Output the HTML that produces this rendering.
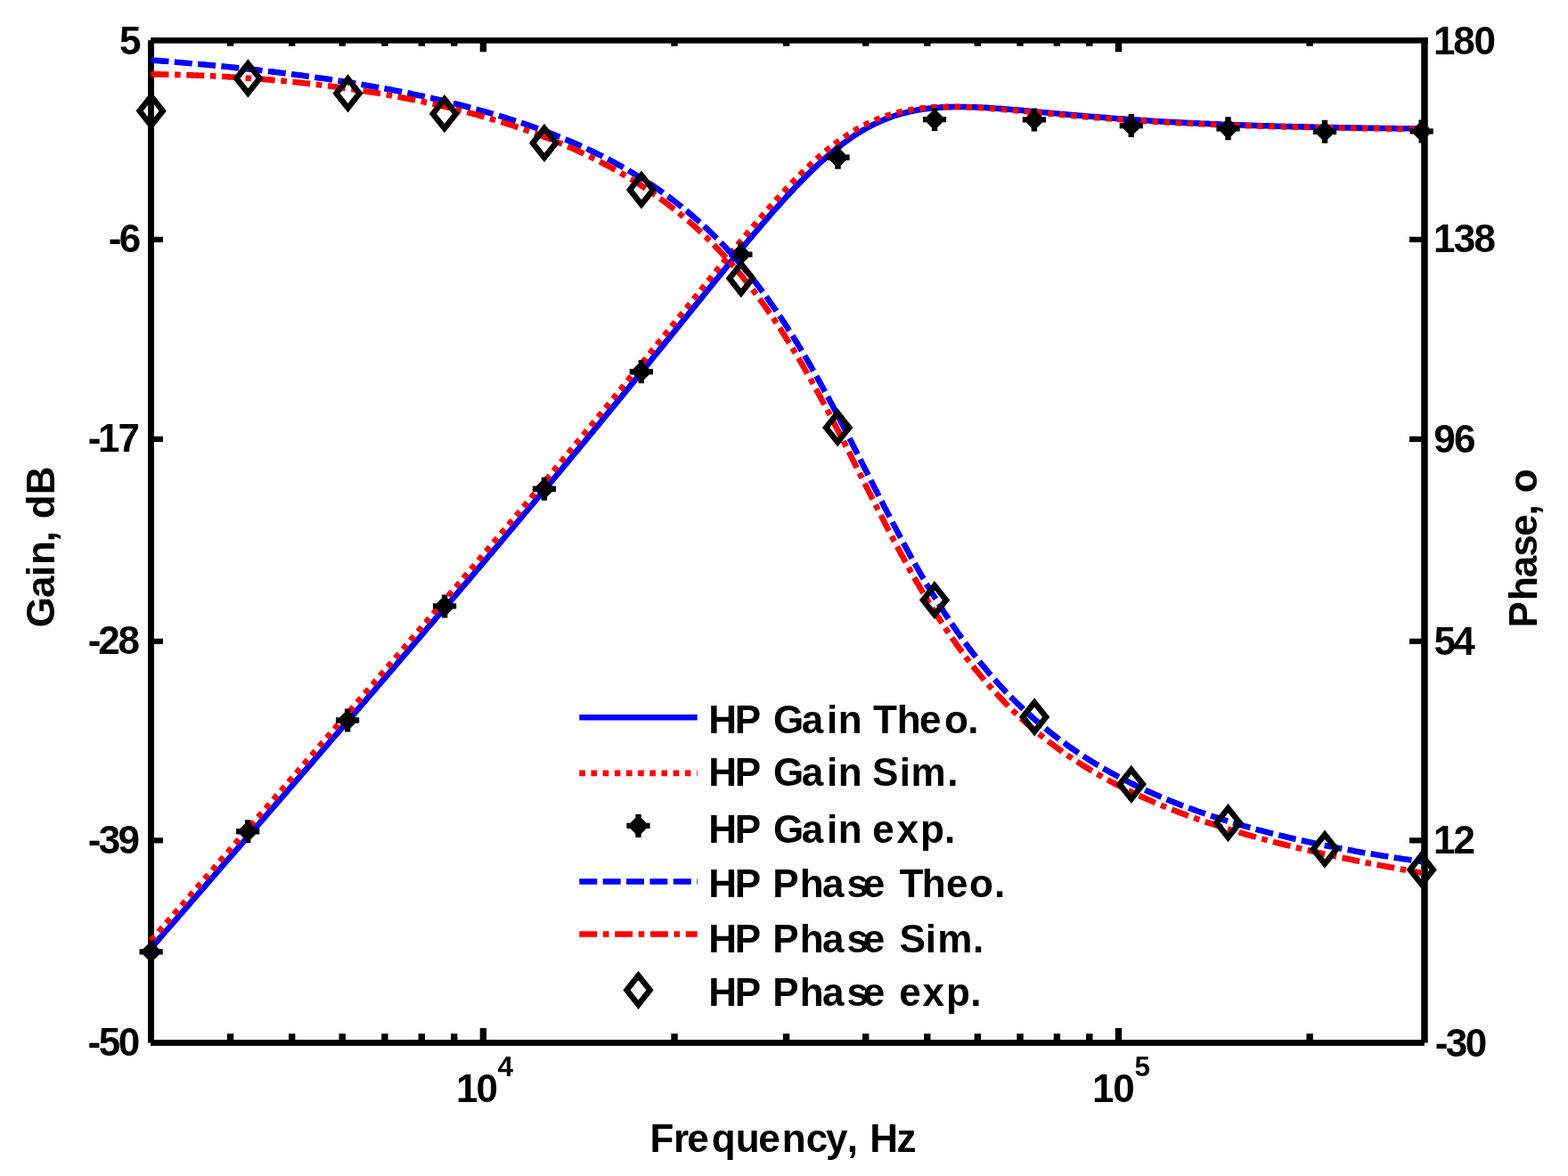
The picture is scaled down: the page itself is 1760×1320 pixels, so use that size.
<!DOCTYPE html><html><head><meta charset="utf-8"><title>HP Gain and Phase</title><style>html,body{margin:0;padding:0;background:#fff;}svg{display:block;}</style></head><body>
<svg width="1760" height="1320" viewBox="0 0 1760 1320">
<rect width="1760" height="1320" fill="#fff"/>
<g fill="#000">
<rect x="169.1" y="42.1" width="1433.6" height="6.6"/>
<rect x="169.1" y="1167.1" width="1429.8" height="6.8"/>
<rect x="166.0" y="45.2" width="6.9" height="1125.3"/>
<rect x="1595.2" y="42.1" width="7.5" height="1128.4"/>
</g>
<path d="M169.4 268.8H183 M1599 268.8H1582 M169.4 492.9H183 M1599 492.9H1582 M169.4 719.9H183 M1599 719.9H1582 M169.4 943.4H183 M1599 943.4H1582" stroke="#000" stroke-width="6.2" fill="none"/>
<path d="M258.6 1170.5V1160.2 M258.6 45.45V51.8 M327.7 1170.5V1160.2 M327.7 45.45V51.8 M384.2 1170.5V1160.2 M384.2 45.45V51.8 M431.9 1170.5V1160.2 M431.9 45.45V51.8 M473.3 1170.5V1160.2 M473.3 45.45V51.8 M509.7 1170.5V1160.2 M509.7 45.45V51.8 M757.0 1170.5V1160.2 M757.0 45.45V51.8 M882.6 1170.5V1160.2 M882.6 45.45V51.8 M971.7 1170.5V1160.2 M971.7 45.45V51.8 M1040.8 1170.5V1160.2 M1040.8 45.45V51.8 M1097.3 1170.5V1160.2 M1097.3 45.45V51.8 M1145.0 1170.5V1160.2 M1145.0 45.45V51.8 M1186.4 1170.5V1160.2 M1186.4 45.45V51.8 M1222.8 1170.5V1160.2 M1222.8 45.45V51.8 M1470.1 1170.5V1160.2 M1470.1 45.45V51.8 M542.4 1170.5V1154.1 M542.4 45.45V58.3 M1255.5 1170.5V1154.1 M1255.5 45.45V58.3" stroke="#000" stroke-width="7.4" fill="none"/>
<g fill="none" stroke-width="6.6" stroke-linejoin="round">
<polyline points="169.5,1064.4 172.4,1061.1 175.2,1057.8 178.1,1054.5 180.9,1051.2 183.8,1047.9 186.6,1044.7 189.5,1041.4 192.4,1038.1 195.2,1034.8 198.1,1031.5 200.9,1028.2 203.8,1024.9 206.7,1021.6 209.5,1018.3 212.4,1015.0 215.2,1011.7 218.1,1008.5 220.9,1005.2 223.8,1001.9 226.7,998.6 229.5,995.3 232.4,992.0 235.2,988.7 238.1,985.4 241.0,982.1 243.8,978.8 246.7,975.5 249.5,972.2 252.4,968.9 255.2,965.6 258.1,962.3 261.0,959.0 263.8,955.7 266.7,952.5 269.5,949.2 272.4,945.9 275.3,942.6 278.1,939.3 281.0,936.0 283.8,932.7 286.7,929.4 289.5,926.1 292.4,922.8 295.3,919.5 298.1,916.2 301.0,912.9 303.8,909.6 306.7,906.3 309.5,903.0 312.4,899.7 315.3,896.4 318.1,893.1 321.0,889.8 323.8,886.4 326.7,883.1 329.6,879.8 332.4,876.5 335.3,873.2 338.1,869.9 341.0,866.6 343.8,863.3 346.7,860.0 349.6,856.7 352.4,853.4 355.3,850.1 358.1,846.8 361.0,843.4 363.9,840.1 366.7,836.8 369.6,833.5 372.4,830.2 375.3,826.9 378.1,823.6 381.0,820.3 383.9,816.9 386.7,813.6 389.6,810.3 392.4,807.0 395.3,803.7 398.1,800.4 401.0,797.0 403.9,793.7 406.7,790.4 409.6,787.1 412.4,783.7 415.3,780.4 418.2,777.1 421.0,773.8 423.9,770.4 426.7,767.1 429.6,763.8 432.4,760.5 435.3,757.1 438.2,753.8 441.0,750.5 443.9,747.1 446.7,743.8 449.6,740.5 452.5,737.1 455.3,733.8 458.2,730.5 461.0,727.1 463.9,723.8 466.7,720.4 469.6,717.1 472.5,713.8 475.3,710.4 478.2,707.1 481.0,703.7 483.9,700.4 486.8,697.0 489.6,693.7 492.5,690.3 495.3,687.0 498.2,683.6 501.0,680.3 503.9,676.9 506.8,673.6 509.6,670.2 512.5,666.8 515.3,663.5 518.2,660.1 521.0,656.8 523.9,653.4 526.8,650.0 529.6,646.7 532.5,643.3 535.3,639.9 538.2,636.5 541.1,633.2 543.9,629.8 546.8,626.4 549.6,623.0 552.5,619.7 555.3,616.3 558.2,612.9 561.1,609.5 563.9,606.1 566.8,602.7 569.6,599.3 572.5,595.9 575.4,592.5 578.2,589.1 581.1,585.7 583.9,582.3 586.8,578.9 589.6,575.5 592.5,572.1 595.4,568.7 598.2,565.3 601.1,561.9 603.9,558.5 606.8,555.0 609.6,551.6 612.5,548.2 615.4,544.8 618.2,541.3 621.1,537.9 623.9,534.5 626.8,531.1 629.7,527.6 632.5,524.2 635.4,520.7 638.2,517.3 641.1,513.8 643.9,510.4 646.8,506.9 649.7,503.5 652.5,500.0 655.4,496.6 658.2,493.1 661.1,489.6 664.0,486.2 666.8,482.7 669.7,479.2 672.5,475.8 675.4,472.3 678.2,468.8 681.1,465.3 684.0,461.8 686.8,458.4 689.7,454.9 692.5,451.4 695.4,447.9 698.3,444.4 701.1,440.9 704.0,437.4 706.8,433.9 709.7,430.4 712.5,426.9 715.4,423.3 718.3,419.8 721.1,416.3 724.0,412.8 726.8,409.3 729.7,405.7 732.5,402.2 735.4,398.7 738.3,395.2 741.1,391.6 744.0,388.1 746.8,384.6 749.7,381.0 752.6,377.5 755.4,374.0 758.3,370.4 761.1,366.9 764.0,363.4 766.8,359.8 769.7,356.3 772.6,352.7 775.4,349.2 778.3,345.7 781.1,342.1 784.0,338.6 786.9,335.1 789.7,331.5 792.6,328.0 795.4,324.5 798.3,320.9 801.1,317.4 804.0,313.9 806.9,310.4 809.7,306.9 812.6,303.4 815.4,299.9 818.3,296.4 821.2,292.9 824.0,289.4 826.9,285.9 829.7,282.5 832.6,279.0 835.4,275.6 838.3,272.2 841.2,268.7 844.0,265.3 846.9,261.9 849.7,258.6 852.6,255.2 855.4,251.9 858.3,248.5 861.2,245.2 864.0,241.9 866.9,238.6 869.7,235.4 872.6,232.2 875.5,229.0 878.3,225.8 881.2,222.6 884.0,219.5 886.9,216.4 889.7,213.4 892.6,210.3 895.5,207.3 898.3,204.4 901.2,201.4 904.0,198.6 906.9,195.7 909.8,192.9 912.6,190.1 915.5,187.4 918.3,184.7 921.2,182.1 924.0,179.5 926.9,177.0 929.8,174.5 932.6,172.1 935.5,169.7 938.3,167.3 941.2,165.1 944.0,162.9 946.9,160.7 949.8,158.6 952.6,156.6 955.5,154.6 958.3,152.6 961.2,150.8 964.1,149.0 966.9,147.2 969.8,145.5 972.6,143.9 975.5,142.4 978.3,140.9 981.2,139.4 984.1,138.1 986.9,136.7 989.8,135.5 992.6,134.3 995.5,133.1 998.4,132.0 1001.2,131.0 1004.1,130.0 1006.9,129.1 1009.8,128.3 1012.6,127.4 1015.5,126.7 1018.4,126.0 1021.2,125.3 1024.1,124.7 1026.9,124.1 1029.8,123.6 1032.7,123.1 1035.5,122.7 1038.4,122.2 1041.2,121.9 1044.1,121.5 1046.9,121.3 1049.8,121.0 1052.7,120.8 1055.5,120.6 1058.4,120.4 1061.2,120.3 1064.1,120.1 1066.9,120.1 1069.8,120.0 1072.7,120.0 1075.5,119.9 1078.4,120.0 1081.2,120.0 1084.1,120.0 1087.0,120.1 1089.8,120.2 1092.7,120.3 1095.5,120.4 1098.4,120.5 1101.2,120.6 1104.1,120.8 1107.0,120.9 1109.8,121.1 1112.7,121.3 1115.5,121.5 1118.4,121.7 1121.3,121.9 1124.1,122.1 1127.0,122.3 1129.8,122.5 1132.7,122.7 1135.5,123.0 1138.4,123.2 1141.3,123.4 1144.1,123.7 1147.0,123.9 1149.8,124.2 1152.7,124.4 1155.6,124.7 1158.4,125.0 1161.3,125.2 1164.1,125.5 1167.0,125.7 1169.8,126.0 1172.7,126.2 1175.6,126.5 1178.4,126.8 1181.3,127.0 1184.1,127.3 1187.0,127.5 1189.8,127.8 1192.7,128.0 1195.6,128.3 1198.4,128.6 1201.3,128.8 1204.1,129.1 1207.0,129.3 1209.9,129.6 1212.7,129.8 1215.6,130.0 1218.4,130.3 1221.3,130.5 1224.1,130.8 1227.0,131.0 1229.9,131.2 1232.7,131.4 1235.6,131.7 1238.4,131.9 1241.3,132.1 1244.2,132.3 1247.0,132.6 1249.9,132.8 1252.7,133.0 1255.6,133.2 1258.4,133.4 1261.3,133.6 1264.2,133.8 1267.0,134.0 1269.9,134.2 1272.7,134.4 1275.6,134.6 1278.4,134.8 1281.3,135.0 1284.2,135.1 1287.0,135.3 1289.9,135.5 1292.7,135.7 1295.6,135.9 1298.5,136.0 1301.3,136.2 1304.2,136.4 1307.0,136.5 1309.9,136.7 1312.7,136.8 1315.6,137.0 1318.5,137.1 1321.3,137.3 1324.2,137.5 1327.0,137.6 1329.9,137.7 1332.8,137.9 1335.6,138.0 1338.5,138.2 1341.3,138.3 1344.2,138.4 1347.0,138.6 1349.9,138.7 1352.8,138.8 1355.6,138.9 1358.5,139.1 1361.3,139.2 1364.2,139.3 1367.1,139.4 1369.9,139.5 1372.8,139.7 1375.6,139.8 1378.5,139.9 1381.3,140.0 1384.2,140.1 1387.1,140.2 1389.9,140.3 1392.8,140.4 1395.6,140.5 1398.5,140.6 1401.3,140.7 1404.2,140.8 1407.1,140.9 1409.9,141.0 1412.8,141.1 1415.6,141.2 1418.5,141.2 1421.4,141.3 1424.2,141.4 1427.1,141.5 1429.9,141.6 1432.8,141.7 1435.6,141.7 1438.5,141.8 1441.4,141.9 1444.2,142.0 1447.1,142.0 1449.9,142.1 1452.8,142.2 1455.7,142.2 1458.5,142.3 1461.4,142.4 1464.2,142.4 1467.1,142.5 1469.9,142.6 1472.8,142.6 1475.7,142.7 1478.5,142.8 1481.4,142.8 1484.2,142.9 1487.1,142.9 1489.9,143.0 1492.8,143.0 1495.7,143.1 1498.5,143.1 1501.4,143.2 1504.2,143.3 1507.1,143.3 1510.0,143.4 1512.8,143.4 1515.7,143.4 1518.5,143.5 1521.4,143.5 1524.2,143.6 1527.1,143.6 1530.0,143.7 1532.8,143.7 1535.7,143.8 1538.5,143.8 1541.4,143.8 1544.3,143.9 1547.1,143.9 1550.0,144.0 1552.8,144.0 1555.7,144.0 1558.5,144.1 1561.4,144.1 1564.3,144.1 1567.1,144.2 1570.0,144.2 1572.8,144.2 1575.7,144.3 1578.6,144.3 1581.4,144.3 1584.3,144.4 1587.1,144.4 1590.0,144.4 1592.8,144.5 1595.7,144.5" stroke="#00f"/>
<polyline points="169.5,1055.8 172.4,1052.5 175.2,1049.2 178.1,1045.9 180.9,1042.6 183.8,1039.3 186.6,1036.0 189.5,1032.7 192.4,1029.4 195.2,1026.1 198.1,1022.8 200.9,1019.6 203.8,1016.3 206.7,1013.0 209.5,1009.7 212.4,1006.4 215.2,1003.1 218.1,999.8 220.9,996.5 223.8,993.2 226.7,989.9 229.5,986.6 232.4,983.3 235.2,980.0 238.1,976.7 241.0,973.5 243.8,970.2 246.7,966.9 249.5,963.6 252.4,960.3 255.2,957.0 258.1,953.7 261.0,950.4 263.8,947.1 266.7,943.8 269.5,940.5 272.4,937.2 275.3,933.9 278.1,930.6 281.0,927.3 283.8,924.0 286.7,920.7 289.5,917.4 292.4,914.1 295.3,910.8 298.1,907.5 301.0,904.2 303.8,900.9 306.7,897.6 309.5,894.3 312.4,891.0 315.3,887.7 318.1,884.4 321.0,881.1 323.8,877.8 326.7,874.4 329.6,871.1 332.4,867.8 335.3,864.5 338.1,861.2 341.0,857.9 343.8,854.6 346.7,851.3 349.6,848.0 352.4,844.7 355.3,841.4 358.1,838.0 361.0,834.7 363.9,831.4 366.7,828.1 369.6,824.8 372.4,821.5 375.3,818.2 378.1,814.8 381.0,811.5 383.9,808.2 386.7,804.9 389.6,801.6 392.4,798.3 395.3,794.9 398.1,791.6 401.0,788.3 403.9,785.0 406.7,781.6 409.6,778.3 412.4,775.0 415.3,771.7 418.2,768.3 421.0,765.0 423.9,761.7 426.7,758.4 429.6,755.0 432.4,751.7 435.3,748.4 438.2,745.0 441.0,741.7 443.9,738.4 446.7,735.0 449.6,731.7 452.5,728.3 455.3,725.0 458.2,721.7 461.0,718.3 463.9,715.0 466.7,711.6 469.6,708.3 472.5,704.9 475.3,701.6 478.2,698.2 481.0,694.9 483.9,691.5 486.8,688.2 489.6,684.8 492.5,681.5 495.3,678.1 498.2,674.8 501.0,671.4 503.9,668.0 506.8,664.7 509.6,661.3 512.5,658.0 515.3,654.6 518.2,651.2 521.0,647.9 523.9,644.5 526.8,641.1 529.6,637.7 532.5,634.4 535.3,631.0 538.2,627.6 541.1,624.2 543.9,620.8 546.8,617.5 549.6,614.1 552.5,610.7 555.3,607.3 558.2,603.9 561.1,600.5 563.9,597.1 566.8,593.7 569.6,590.3 572.5,586.9 575.4,583.5 578.2,580.1 581.1,576.7 583.9,573.3 586.8,569.9 589.6,566.5 592.5,563.1 595.4,559.6 598.2,556.2 601.1,552.8 603.9,549.4 606.8,545.9 609.6,542.5 612.5,539.1 615.4,535.7 618.2,532.2 621.1,528.8 623.9,525.3 626.8,521.9 629.7,518.5 632.5,515.0 635.4,511.6 638.2,508.1 641.1,504.6 643.9,501.2 646.8,497.7 649.7,494.3 652.5,490.8 655.4,487.3 658.2,483.9 661.1,480.4 664.0,476.9 666.8,473.4 669.7,469.9 672.5,466.5 675.4,463.0 678.2,459.5 681.1,456.0 684.0,452.5 686.8,449.0 689.7,445.5 692.5,442.0 695.4,438.5 698.3,435.0 701.1,431.5 704.0,428.0 706.8,424.4 709.7,420.9 712.5,417.4 715.4,413.9 718.3,410.4 721.1,406.8 724.0,403.3 726.8,399.8 729.7,396.3 732.5,392.7 735.4,389.2 738.3,385.6 741.1,382.1 744.0,378.6 746.8,375.0 749.7,371.5 752.6,367.9 755.4,364.4 758.3,360.9 761.1,357.3 764.0,353.8 766.8,350.2 769.7,346.7 772.6,343.1 775.4,339.6 778.3,336.0 781.1,332.5 784.0,328.9 786.9,325.4 789.7,321.8 792.6,318.3 795.4,314.8 798.3,311.2 801.1,307.7 804.0,304.2 806.9,300.6 809.7,297.1 812.6,293.6 815.4,290.1 818.3,286.6 821.2,283.1 824.0,279.7 826.9,276.2 829.7,272.7 832.6,269.3 835.4,265.9 838.3,262.4 841.2,259.0 844.0,255.6 846.9,252.3 849.7,248.9 852.6,245.6 855.4,242.3 858.3,239.0 861.2,235.7 864.0,232.4 866.9,229.2 869.7,226.0 872.6,222.8 875.5,219.7 878.3,216.5 881.2,213.5 884.0,210.4 886.9,207.4 889.7,204.4 892.6,201.4 895.5,198.5 898.3,195.7 901.2,192.8 904.0,190.0 906.9,187.3 909.8,184.6 912.6,181.9 915.5,179.3 918.3,176.8 921.2,174.3 924.0,171.8 926.9,169.4 929.8,167.1 932.6,164.8 935.5,162.6 938.3,160.4 941.2,158.3 944.0,156.3 946.9,154.3 949.8,152.4 952.6,150.5 955.5,148.7 958.3,147.0 961.2,145.3 964.1,143.7 966.9,142.1 969.8,140.6 972.6,139.2 975.5,137.8 978.3,136.5 981.2,135.2 984.1,134.0 986.9,132.9 989.8,131.8 992.6,130.8 995.5,129.8 998.4,128.9 1001.2,128.0 1004.1,127.2 1006.9,126.5 1009.8,125.8 1012.6,125.1 1015.5,124.5 1018.4,123.9 1021.2,123.4 1024.1,122.9 1026.9,122.5 1029.8,122.1 1032.7,121.7 1035.5,121.4 1038.4,121.1 1041.2,120.9 1044.1,120.6 1046.9,120.4 1049.8,120.3 1052.7,120.2 1055.5,120.1 1058.4,120.0 1061.2,119.9 1064.1,119.9 1066.9,119.9 1069.8,119.9 1072.7,119.9 1075.5,120.0 1078.4,120.0 1081.2,120.1 1084.1,120.2 1087.0,120.3 1089.8,120.5 1092.7,120.6 1095.5,120.8 1098.4,120.9 1101.2,121.1 1104.1,121.3 1107.0,121.5 1109.8,121.7 1112.7,121.9 1115.5,122.1 1118.4,122.3 1121.3,122.6 1124.1,122.8 1127.0,123.0 1129.8,123.3 1132.7,123.5 1135.5,123.8 1138.4,124.0 1141.3,124.3 1144.1,124.5 1147.0,124.8 1149.8,125.0 1152.7,125.3 1155.6,125.6 1158.4,125.8 1161.3,126.1 1164.1,126.4 1167.0,126.6 1169.8,126.9 1172.7,127.2 1175.6,127.4 1178.4,127.7 1181.3,127.9 1184.1,128.2 1187.0,128.5 1189.8,128.7 1192.7,129.0 1195.6,129.2 1198.4,129.5 1201.3,129.7 1204.1,130.0 1207.0,130.2 1209.9,130.4 1212.7,130.7 1215.6,130.9 1218.4,131.2 1221.3,131.4 1224.1,131.6 1227.0,131.9 1229.9,132.1 1232.7,132.3 1235.6,132.5 1238.4,132.7 1241.3,133.0 1244.2,133.2 1247.0,133.4 1249.9,133.6 1252.7,133.8 1255.6,134.0 1258.4,134.2 1261.3,134.4 1264.2,134.6 1267.0,134.8 1269.9,135.0 1272.7,135.2 1275.6,135.4 1278.4,135.5 1281.3,135.7 1284.2,135.9 1287.0,136.1 1289.9,136.2 1292.7,136.4 1295.6,136.6 1298.5,136.7 1301.3,136.9 1304.2,137.1 1307.0,137.2 1309.9,137.4 1312.7,137.5 1315.6,137.7 1318.5,137.8 1321.3,138.0 1324.2,138.1 1327.0,138.3 1329.9,138.4 1332.8,138.5 1335.6,138.7 1338.5,138.8 1341.3,138.9 1344.2,139.1 1347.0,139.2 1349.9,139.3 1352.8,139.4 1355.6,139.6 1358.5,139.7 1361.3,139.8 1364.2,139.9 1367.1,140.0 1369.9,140.1 1372.8,140.2 1375.6,140.3 1378.5,140.5 1381.3,140.6 1384.2,140.7 1387.1,140.8 1389.9,140.9 1392.8,141.0 1395.6,141.1 1398.5,141.1 1401.3,141.2 1404.2,141.3 1407.1,141.4 1409.9,141.5 1412.8,141.6 1415.6,141.7 1418.5,141.8 1421.4,141.8 1424.2,141.9 1427.1,142.0 1429.9,142.1 1432.8,142.2 1435.6,142.2 1438.5,142.3 1441.4,142.4 1444.2,142.4 1447.1,142.5 1449.9,142.6 1452.8,142.6 1455.7,142.7 1458.5,142.8 1461.4,142.8 1464.2,142.9 1467.1,143.0 1469.9,143.0 1472.8,143.1 1475.7,143.1 1478.5,143.2 1481.4,143.3 1484.2,143.3 1487.1,143.4 1489.9,143.4 1492.8,143.5 1495.7,143.5 1498.5,143.6 1501.4,143.6 1504.2,143.7 1507.1,143.7 1510.0,143.8 1512.8,143.8 1515.7,143.9 1518.5,143.9 1521.4,144.0 1524.2,144.0 1527.1,144.0 1530.0,144.1 1532.8,144.1 1535.7,144.2 1538.5,144.2 1541.4,144.2 1544.3,144.3 1547.1,144.3 1550.0,144.4 1552.8,144.4 1555.7,144.4 1558.5,144.5 1561.4,144.5 1564.3,144.5 1567.1,144.6 1570.0,144.6 1572.8,144.6 1575.7,144.7 1578.6,144.7 1581.4,144.7 1584.3,144.7 1587.1,144.8 1590.0,144.8 1592.8,144.8 1595.7,144.9" stroke="#f00" stroke-dasharray="6.55 6.55"/>
</g>
<g fill="#000">
<polygon points="178.20,1071.96 173.16,1077.00 166.04,1077.00 161.00,1071.96 161.00,1064.84 166.04,1059.80 173.16,1059.80 178.20,1064.84"/><path d="M156.50 1068.40H182.70M169.60 1055.40V1081.40" stroke="#000" stroke-width="6.4"/>
<polygon points="286.80,936.86 281.76,941.90 274.64,941.90 269.60,936.86 269.60,929.74 274.64,924.70 281.76,924.70 286.80,929.74"/><path d="M265.10 933.30H291.30M278.20 920.30V946.30" stroke="#000" stroke-width="6.4"/>
<polygon points="398.70,812.06 393.66,817.10 386.54,817.10 381.50,812.06 381.50,804.94 386.54,799.90 393.66,799.90 398.70,804.94"/><path d="M377.00 808.50H403.20M390.10 795.50V821.50" stroke="#000" stroke-width="6.4"/>
<polygon points="507.70,683.96 502.66,689.00 495.54,689.00 490.50,683.96 490.50,676.84 495.54,671.80 502.66,671.80 507.70,676.84"/><path d="M486.00 680.40H512.20M499.10 667.40V693.40" stroke="#000" stroke-width="6.4"/>
<polygon points="619.50,552.26 614.46,557.30 607.34,557.30 602.30,552.26 602.30,545.14 607.34,540.10 614.46,540.10 619.50,545.14"/><path d="M597.80 548.70H624.00M610.90 535.70V561.70" stroke="#000" stroke-width="6.4"/>
<polygon points="728.40,420.76 723.36,425.80 716.24,425.80 711.20,420.76 711.20,413.64 716.24,408.60 723.36,408.60 728.40,413.64"/><path d="M706.70 417.20H732.90M719.80 404.20V430.20" stroke="#000" stroke-width="6.4"/>
<polygon points="840.00,289.16 834.96,294.20 827.84,294.20 822.80,289.16 822.80,282.04 827.84,277.00 834.96,277.00 840.00,282.04"/><path d="M818.30 285.60H844.50M831.40 272.60V298.60" stroke="#000" stroke-width="6.4"/>
<polygon points="949.10,180.36 944.06,185.40 936.94,185.40 931.90,180.36 931.90,173.24 936.94,168.20 944.06,168.20 949.10,173.24"/><path d="M927.40 176.80H953.60M940.50 163.80V189.80" stroke="#000" stroke-width="6.4"/>
<polygon points="1057.60,137.66 1052.56,142.70 1045.44,142.70 1040.40,137.66 1040.40,130.54 1045.44,125.50 1052.56,125.50 1057.60,130.54"/><path d="M1035.90 134.10H1062.10M1049.00 121.10V147.10" stroke="#000" stroke-width="6.4"/>
<polygon points="1169.50,137.96 1164.46,143.00 1157.34,143.00 1152.30,137.96 1152.30,130.84 1157.34,125.80 1164.46,125.80 1169.50,130.84"/><path d="M1147.80 134.40H1174.00M1160.90 121.40V147.40" stroke="#000" stroke-width="6.4"/>
<polygon points="1278.40,144.66 1273.36,149.70 1266.24,149.70 1261.20,144.66 1261.20,137.54 1266.24,132.50 1273.36,132.50 1278.40,137.54"/><path d="M1256.70 141.10H1282.90M1269.80 128.10V154.10" stroke="#000" stroke-width="6.4"/>
<polygon points="1387.10,147.86 1382.06,152.90 1374.94,152.90 1369.90,147.86 1369.90,140.74 1374.94,135.70 1382.06,135.70 1387.10,140.74"/><path d="M1365.40 144.30H1391.60M1378.50 131.30V157.30" stroke="#000" stroke-width="6.4"/>
<polygon points="1495.60,151.26 1490.56,156.30 1483.44,156.30 1478.40,151.26 1478.40,144.14 1483.44,139.10 1490.56,139.10 1495.60,144.14"/><path d="M1473.90 147.70H1500.10M1487.00 134.70V160.70" stroke="#000" stroke-width="6.4"/>
<polygon points="1604.30,150.96 1599.26,156.00 1592.14,156.00 1587.10,150.96 1587.10,143.84 1592.14,138.80 1599.26,138.80 1604.30,143.84"/><path d="M1582.60 147.40H1608.80M1595.70 134.40V160.40" stroke="#000" stroke-width="6.4"/>
</g>
<g fill="none" stroke-width="6.6" stroke-linejoin="round">
<polyline points="169.5,67.5 172.4,67.7 175.2,67.9 178.1,68.1 180.9,68.4 183.8,68.6 186.6,68.8 189.5,69.0 192.4,69.3 195.2,69.5 198.1,69.8 200.9,70.0 203.8,70.2 206.7,70.5 209.5,70.7 212.4,71.0 215.2,71.2 218.1,71.5 220.9,71.7 223.8,72.0 226.7,72.2 229.5,72.5 232.4,72.8 235.2,73.0 238.1,73.3 241.0,73.6 243.8,73.9 246.7,74.1 249.5,74.4 252.4,74.7 255.2,75.0 258.1,75.3 261.0,75.6 263.8,75.9 266.7,76.2 269.5,76.5 272.4,76.8 275.3,77.1 278.1,77.4 281.0,77.7 283.8,78.0 286.7,78.3 289.5,78.6 292.4,79.0 295.3,79.3 298.1,79.6 301.0,80.0 303.8,80.3 306.7,80.6 309.5,81.0 312.4,81.3 315.3,81.7 318.1,82.0 321.0,82.4 323.8,82.8 326.7,83.1 329.6,83.5 332.4,83.9 335.3,84.2 338.1,84.6 341.0,85.0 343.8,85.4 346.7,85.8 349.6,86.2 352.4,86.6 355.3,87.0 358.1,87.4 361.0,87.8 363.9,88.2 366.7,88.6 369.6,89.0 372.4,89.5 375.3,89.9 378.1,90.3 381.0,90.8 383.9,91.2 386.7,91.7 389.6,92.1 392.4,92.6 395.3,93.0 398.1,93.5 401.0,94.0 403.9,94.5 406.7,94.9 409.6,95.4 412.4,95.9 415.3,96.4 418.2,96.9 421.0,97.4 423.9,97.9 426.7,98.5 429.6,99.0 432.4,99.5 435.3,100.0 438.2,100.6 441.0,101.1 443.9,101.7 446.7,102.2 449.6,102.8 452.5,103.4 455.3,103.9 458.2,104.5 461.0,105.1 463.9,105.7 466.7,106.3 469.6,106.9 472.5,107.5 475.3,108.1 478.2,108.8 481.0,109.4 483.9,110.0 486.8,110.7 489.6,111.3 492.5,112.0 495.3,112.6 498.2,113.3 501.0,114.0 503.9,114.7 506.8,115.4 509.6,116.1 512.5,116.8 515.3,117.5 518.2,118.3 521.0,119.0 523.9,119.7 526.8,120.5 529.6,121.2 532.5,122.0 535.3,122.8 538.2,123.6 541.1,124.4 543.9,125.2 546.8,126.0 549.6,126.8 552.5,127.6 555.3,128.5 558.2,129.3 561.1,130.2 563.9,131.1 566.8,132.0 569.6,132.9 572.5,133.8 575.4,134.7 578.2,135.6 581.1,136.5 583.9,137.5 586.8,138.4 589.6,139.4 592.5,140.4 595.4,141.4 598.2,142.4 601.1,143.4 603.9,144.4 606.8,145.5 609.6,146.5 612.5,147.6 615.4,148.7 618.2,149.8 621.1,150.9 623.9,152.0 626.8,153.2 629.7,154.3 632.5,155.5 635.4,156.7 638.2,157.9 641.1,159.1 643.9,160.3 646.8,161.6 649.7,162.8 652.5,164.1 655.4,165.4 658.2,166.7 661.1,168.1 664.0,169.4 666.8,170.8 669.7,172.2 672.5,173.6 675.4,175.0 678.2,176.5 681.1,177.9 684.0,179.4 686.8,180.9 689.7,182.5 692.5,184.0 695.4,185.6 698.3,187.2 701.1,188.8 704.0,190.4 706.8,192.1 709.7,193.8 712.5,195.5 715.4,197.3 718.3,199.0 721.1,200.8 724.0,202.6 726.8,204.5 729.7,206.4 732.5,208.3 735.4,210.2 738.3,212.2 741.1,214.2 744.0,216.2 746.8,218.3 749.7,220.3 752.6,222.5 755.4,224.6 758.3,226.8 761.1,229.0 764.0,231.3 766.8,233.6 769.7,235.9 772.6,238.3 775.4,240.7 778.3,243.1 781.1,245.6 784.0,248.1 786.9,250.7 789.7,253.3 792.6,256.0 795.4,258.7 798.3,261.4 801.1,264.2 804.0,267.0 806.9,269.9 809.7,272.8 812.6,275.8 815.4,278.8 818.3,281.9 821.2,285.0 824.0,288.2 826.9,291.4 829.7,294.7 832.6,298.1 835.4,301.5 838.3,304.9 841.2,308.4 844.0,312.0 846.9,315.6 849.7,319.3 852.6,323.0 855.4,326.8 858.3,330.7 861.2,334.6 864.0,338.5 866.9,342.6 869.7,346.7 872.6,350.8 875.5,355.1 878.3,359.4 881.2,363.7 884.0,368.1 886.9,372.6 889.7,377.1 892.6,381.7 895.5,386.3 898.3,391.1 901.2,395.8 904.0,400.7 906.9,405.5 909.8,410.5 912.6,415.5 915.5,420.5 918.3,425.6 921.2,430.8 924.0,436.0 926.9,441.2 929.8,446.5 932.6,451.9 935.5,457.2 938.3,462.6 941.2,468.1 944.0,473.6 946.9,479.1 949.8,484.6 952.6,490.2 955.5,495.8 958.3,501.4 961.2,507.0 964.1,512.6 966.9,518.2 969.8,523.9 972.6,529.5 975.5,535.2 978.3,540.8 981.2,546.4 984.1,552.0 986.9,557.6 989.8,563.2 992.6,568.8 995.5,574.3 998.4,579.8 1001.2,585.3 1004.1,590.7 1006.9,596.1 1009.8,601.5 1012.6,606.8 1015.5,612.1 1018.4,617.4 1021.2,622.6 1024.1,627.7 1026.9,632.8 1029.8,637.8 1032.7,642.8 1035.5,647.8 1038.4,652.6 1041.2,657.5 1044.1,662.2 1046.9,666.9 1049.8,671.6 1052.7,676.2 1055.5,680.7 1058.4,685.1 1061.2,689.5 1064.1,693.9 1066.9,698.2 1069.8,702.4 1072.7,706.5 1075.5,710.6 1078.4,714.7 1081.2,718.6 1084.1,722.5 1087.0,726.4 1089.8,730.2 1092.7,733.9 1095.5,737.6 1098.4,741.2 1101.2,744.7 1104.1,748.2 1107.0,751.7 1109.8,755.1 1112.7,758.4 1115.5,761.7 1118.4,764.9 1121.3,768.1 1124.1,771.2 1127.0,774.2 1129.8,777.3 1132.7,780.2 1135.5,783.2 1138.4,786.0 1141.3,788.9 1144.1,791.6 1147.0,794.4 1149.8,797.1 1152.7,799.7 1155.6,802.3 1158.4,804.9 1161.3,807.4 1164.1,809.9 1167.0,812.3 1169.8,814.7 1172.7,817.1 1175.6,819.4 1178.4,821.7 1181.3,824.0 1184.1,826.2 1187.0,828.4 1189.8,830.5 1192.7,832.6 1195.6,834.7 1198.4,836.8 1201.3,838.8 1204.1,840.8 1207.0,842.7 1209.9,844.7 1212.7,846.6 1215.6,848.4 1218.4,850.3 1221.3,852.1 1224.1,853.9 1227.0,855.7 1229.9,857.4 1232.7,859.1 1235.6,860.8 1238.4,862.5 1241.3,864.1 1244.2,865.7 1247.0,867.3 1249.9,868.9 1252.7,870.4 1255.6,872.0 1258.4,873.5 1261.3,875.0 1264.2,876.4 1267.0,877.9 1269.9,879.3 1272.7,880.7 1275.6,882.1 1278.4,883.5 1281.3,884.8 1284.2,886.1 1287.0,887.5 1289.9,888.8 1292.7,890.0 1295.6,891.3 1298.5,892.5 1301.3,893.8 1304.2,895.0 1307.0,896.2 1309.9,897.4 1312.7,898.5 1315.6,899.7 1318.5,900.8 1321.3,901.9 1324.2,903.1 1327.0,904.2 1329.9,905.2 1332.8,906.3 1335.6,907.4 1338.5,908.4 1341.3,909.4 1344.2,910.5 1347.0,911.5 1349.9,912.4 1352.8,913.4 1355.6,914.4 1358.5,915.4 1361.3,916.3 1364.2,917.2 1367.1,918.2 1369.9,919.1 1372.8,920.0 1375.6,920.9 1378.5,921.8 1381.3,922.6 1384.2,923.5 1387.1,924.3 1389.9,925.2 1392.8,926.0 1395.6,926.8 1398.5,927.6 1401.3,928.4 1404.2,929.2 1407.1,930.0 1409.9,930.8 1412.8,931.6 1415.6,932.3 1418.5,933.1 1421.4,933.8 1424.2,934.6 1427.1,935.3 1429.9,936.0 1432.8,936.7 1435.6,937.4 1438.5,938.1 1441.4,938.8 1444.2,939.5 1447.1,940.2 1449.9,940.8 1452.8,941.5 1455.7,942.1 1458.5,942.8 1461.4,943.4 1464.2,944.0 1467.1,944.7 1469.9,945.3 1472.8,945.9 1475.7,946.5 1478.5,947.1 1481.4,947.7 1484.2,948.3 1487.1,948.9 1489.9,949.4 1492.8,950.0 1495.7,950.6 1498.5,951.1 1501.4,951.7 1504.2,952.2 1507.1,952.7 1510.0,953.3 1512.8,953.8 1515.7,954.3 1518.5,954.8 1521.4,955.4 1524.2,955.9 1527.1,956.4 1530.0,956.9 1532.8,957.4 1535.7,957.8 1538.5,958.3 1541.4,958.8 1544.3,959.3 1547.1,959.7 1550.0,960.2 1552.8,960.7 1555.7,961.1 1558.5,961.6 1561.4,962.0 1564.3,962.4 1567.1,962.9 1570.0,963.3 1572.8,963.7 1575.7,964.2 1578.6,964.6 1581.4,965.0 1584.3,965.4 1587.1,965.8 1590.0,966.2 1592.8,966.6 1595.7,967.0" stroke="#00f" stroke-dasharray="20 6.4"/>
<polyline points="169.5,83.3 172.4,83.4 175.2,83.4 178.1,83.4 180.9,83.5 183.8,83.5 186.6,83.6 189.5,83.7 192.4,83.7 195.2,83.8 198.1,83.9 200.9,83.9 203.8,84.0 206.7,84.1 209.5,84.2 212.4,84.3 215.2,84.4 218.1,84.5 220.9,84.6 223.8,84.7 226.7,84.8 229.5,84.9 232.4,85.1 235.2,85.2 238.1,85.3 241.0,85.5 243.8,85.6 246.7,85.7 249.5,85.9 252.4,86.0 255.2,86.2 258.1,86.4 261.0,86.5 263.8,86.7 266.7,86.9 269.5,87.1 272.4,87.3 275.3,87.5 278.1,87.7 281.0,87.9 283.8,88.1 286.7,88.3 289.5,88.5 292.4,88.7 295.3,88.9 298.1,89.2 301.0,89.4 303.8,89.6 306.7,89.9 309.5,90.1 312.4,90.4 315.3,90.7 318.1,90.9 321.0,91.2 323.8,91.5 326.7,91.7 329.6,92.0 332.4,92.3 335.3,92.6 338.1,92.9 341.0,93.2 343.8,93.5 346.7,93.9 349.6,94.2 352.4,94.5 355.3,94.8 358.1,95.2 361.0,95.5 363.9,95.9 366.7,96.2 369.6,96.6 372.4,97.0 375.3,97.3 378.1,97.7 381.0,98.1 383.9,98.5 386.7,98.9 389.6,99.3 392.4,99.7 395.3,100.1 398.1,100.5 401.0,100.9 403.9,101.4 406.7,101.8 409.6,102.3 412.4,102.7 415.3,103.2 418.2,103.6 421.0,104.1 423.9,104.6 426.7,105.1 429.6,105.5 432.4,106.0 435.3,106.5 438.2,107.1 441.0,107.6 443.9,108.1 446.7,108.6 449.6,109.2 452.5,109.7 455.3,110.3 458.2,110.8 461.0,111.4 463.9,111.9 466.7,112.5 469.6,113.1 472.5,113.7 475.3,114.3 478.2,114.9 481.0,115.5 483.9,116.2 486.8,116.8 489.6,117.4 492.5,118.1 495.3,118.8 498.2,119.4 501.0,120.1 503.9,120.8 506.8,121.5 509.6,122.2 512.5,122.9 515.3,123.6 518.2,124.3 521.0,125.1 523.9,125.8 526.8,126.6 529.6,127.3 532.5,128.1 535.3,128.9 538.2,129.7 541.1,130.5 543.9,131.3 546.8,132.1 549.6,133.0 552.5,133.8 555.3,134.7 558.2,135.5 561.1,136.4 563.9,137.3 566.8,138.2 569.6,139.1 572.5,140.0 575.4,141.0 578.2,141.9 581.1,142.9 583.9,143.8 586.8,144.8 589.6,145.8 592.5,146.8 595.4,147.8 598.2,148.9 601.1,149.9 603.9,151.0 606.8,152.0 609.6,153.1 612.5,154.2 615.4,155.3 618.2,156.5 621.1,157.6 623.9,158.8 626.8,160.0 629.7,161.1 632.5,162.3 635.4,163.6 638.2,164.8 641.1,166.1 643.9,167.3 646.8,168.6 649.7,169.9 652.5,171.2 655.4,172.6 658.2,173.9 661.1,175.3 664.0,176.7 666.8,178.1 669.7,179.6 672.5,181.0 675.4,182.5 678.2,184.0 681.1,185.5 684.0,187.0 686.8,188.6 689.7,190.2 692.5,191.8 695.4,193.4 698.3,195.1 701.1,196.7 704.0,198.4 706.8,200.2 709.7,201.9 712.5,203.7 715.4,205.5 718.3,207.3 721.1,209.2 724.0,211.1 726.8,213.0 729.7,214.9 732.5,216.9 735.4,218.9 738.3,220.9 741.1,223.0 744.0,225.1 746.8,227.2 749.7,229.4 752.6,231.6 755.4,233.8 758.3,236.0 761.1,238.3 764.0,240.7 766.8,243.1 769.7,245.5 772.6,247.9 775.4,250.4 778.3,252.9 781.1,255.5 784.0,258.1 786.9,260.8 789.7,263.5 792.6,266.2 795.4,269.0 798.3,271.8 801.1,274.7 804.0,277.7 806.9,280.6 809.7,283.7 812.6,286.7 815.4,289.9 818.3,293.0 821.2,296.3 824.0,299.6 826.9,302.9 829.7,306.3 832.6,309.7 835.4,313.3 838.3,316.8 841.2,320.4 844.0,324.1 846.9,327.9 849.7,331.7 852.6,335.5 855.4,339.4 858.3,343.4 861.2,347.5 864.0,351.6 866.9,355.7 869.7,359.9 872.6,364.2 875.5,368.6 878.3,373.0 881.2,377.5 884.0,382.0 886.9,386.6 889.7,391.3 892.6,396.0 895.5,400.8 898.3,405.6 901.2,410.5 904.0,415.5 906.9,420.5 909.8,425.6 912.6,430.7 915.5,435.9 918.3,441.1 921.2,446.4 924.0,451.7 926.9,457.1 929.8,462.5 932.6,467.9 935.5,473.4 938.3,478.9 941.2,484.5 944.0,490.0 946.9,495.6 949.8,501.2 952.6,506.9 955.5,512.5 958.3,518.2 961.2,523.9 964.1,529.6 966.9,535.3 969.8,540.9 972.6,546.6 975.5,552.3 978.3,558.0 981.2,563.6 984.1,569.2 986.9,574.8 989.8,580.4 992.6,586.0 995.5,591.5 998.4,597.0 1001.2,602.5 1004.1,607.9 1006.9,613.3 1009.8,618.6 1012.6,623.9 1015.5,629.1 1018.4,634.3 1021.2,639.5 1024.1,644.5 1026.9,649.6 1029.8,654.5 1032.7,659.5 1035.5,664.3 1038.4,669.1 1041.2,673.9 1044.1,678.5 1046.9,683.2 1049.8,687.7 1052.7,692.2 1055.5,696.6 1058.4,701.0 1061.2,705.3 1064.1,709.5 1066.9,713.7 1069.8,717.8 1072.7,721.9 1075.5,725.9 1078.4,729.8 1081.2,733.6 1084.1,737.4 1087.0,741.2 1089.8,744.9 1092.7,748.5 1095.5,752.1 1098.4,755.6 1101.2,759.0 1104.1,762.4 1107.0,765.7 1109.8,769.0 1112.7,772.2 1115.5,775.4 1118.4,778.5 1121.3,781.6 1124.1,784.6 1127.0,787.6 1129.8,790.5 1132.7,793.4 1135.5,796.2 1138.4,799.0 1141.3,801.7 1144.1,804.4 1147.0,807.0 1149.8,809.6 1152.7,812.2 1155.6,814.7 1158.4,817.1 1161.3,819.6 1164.1,822.0 1167.0,824.3 1169.8,826.6 1172.7,828.9 1175.6,831.2 1178.4,833.4 1181.3,835.5 1184.1,837.7 1187.0,839.8 1189.8,841.8 1192.7,843.9 1195.6,845.9 1198.4,847.9 1201.3,849.8 1204.1,851.7 1207.0,853.6 1209.9,855.5 1212.7,857.3 1215.6,859.1 1218.4,860.9 1221.3,862.6 1224.1,864.4 1227.0,866.1 1229.9,867.8 1232.7,869.4 1235.6,871.0 1238.4,872.6 1241.3,874.2 1244.2,875.8 1247.0,877.3 1249.9,878.8 1252.7,880.3 1255.6,881.8 1258.4,883.3 1261.3,884.7 1264.2,886.1 1267.0,887.5 1269.9,888.9 1272.7,890.3 1275.6,891.6 1278.4,893.0 1281.3,894.3 1284.2,895.6 1287.0,896.8 1289.9,898.1 1292.7,899.3 1295.6,900.6 1298.5,901.8 1301.3,903.0 1304.2,904.2 1307.0,905.3 1309.9,906.5 1312.7,907.6 1315.6,908.8 1318.5,909.9 1321.3,911.0 1324.2,912.1 1327.0,913.1 1329.9,914.2 1332.8,915.3 1335.6,916.3 1338.5,917.3 1341.3,918.3 1344.2,919.3 1347.0,920.3 1349.9,921.3 1352.8,922.3 1355.6,923.3 1358.5,924.2 1361.3,925.1 1364.2,926.1 1367.1,927.0 1369.9,927.9 1372.8,928.8 1375.6,929.7 1378.5,930.6 1381.3,931.5 1384.2,932.3 1387.1,933.2 1389.9,934.0 1392.8,934.9 1395.6,935.7 1398.5,936.5 1401.3,937.3 1404.2,938.1 1407.1,938.9 1409.9,939.7 1412.8,940.5 1415.6,941.3 1418.5,942.1 1421.4,942.8 1424.2,943.6 1427.1,944.3 1429.9,945.1 1432.8,945.8 1435.6,946.5 1438.5,947.3 1441.4,948.0 1444.2,948.7 1447.1,949.4 1449.9,950.1 1452.8,950.8 1455.7,951.5 1458.5,952.1 1461.4,952.8 1464.2,953.5 1467.1,954.2 1469.9,954.8 1472.8,955.5 1475.7,956.1 1478.5,956.8 1481.4,957.4 1484.2,958.0 1487.1,958.7 1489.9,959.3 1492.8,959.9 1495.7,960.5 1498.5,961.1 1501.4,961.7 1504.2,962.4 1507.1,962.9 1510.0,963.5 1512.8,964.1 1515.7,964.7 1518.5,965.3 1521.4,965.9 1524.2,966.5 1527.1,967.0 1530.0,967.6 1532.8,968.2 1535.7,968.7 1538.5,969.3 1541.4,969.8 1544.3,970.4 1547.1,970.9 1550.0,971.5 1552.8,972.0 1555.7,972.5 1558.5,973.1 1561.4,973.6 1564.3,974.1 1567.1,974.7 1570.0,975.2 1572.8,975.7 1575.7,976.2 1578.6,976.7 1581.4,977.2 1584.3,977.8 1587.1,978.3 1590.0,978.8 1592.8,979.3 1595.7,979.8" stroke="#f00" stroke-dasharray="20 6.6 6.6 6.6"/>
</g>
<g fill="none" stroke="#000" stroke-width="6.5" stroke-linejoin="miter" stroke-miterlimit="10">
<path d="M169.70 108.10L182.70 124.50L169.70 140.90L156.70 124.50Z"/>
<path d="M278.40 71.60L291.40 88.00L278.40 104.40L265.40 88.00Z"/>
<path d="M390.50 88.40L403.50 104.80L390.50 121.20L377.50 104.80Z"/>
<path d="M498.90 111.30L511.90 127.70L498.90 144.10L485.90 127.70Z"/>
<path d="M611.00 144.10L624.00 160.50L611.00 176.90L598.00 160.50Z"/>
<path d="M720.00 196.70L733.00 213.10L720.00 229.50L707.00 213.10Z"/>
<path d="M831.80 296.10L844.80 312.50L831.80 328.90L818.80 312.50Z"/>
<path d="M940.20 463.50L953.20 479.90L940.20 496.30L927.20 479.90Z"/>
<path d="M1049.00 657.20L1062.00 673.60L1049.00 690.00L1036.00 673.60Z"/>
<path d="M1161.10 788.40L1174.10 804.80L1161.10 821.20L1148.10 804.80Z"/>
<path d="M1269.80 863.90L1282.80 880.30L1269.80 896.70L1256.80 880.30Z"/>
<path d="M1378.50 907.20L1391.50 923.60L1378.50 940.00L1365.50 923.60Z"/>
<path d="M1487.00 936.80L1500.00 953.20L1487.00 969.60L1474.00 953.20Z"/>
<path d="M1595.70 959.80L1608.70 976.20L1595.70 992.60L1582.70 976.20Z"/>
</g>
<g font-family="Liberation Sans, Arial, sans-serif" font-weight="bold" fill="#000">
<text x="133.95" y="61.10" font-size="44">5</text>
<text x="121.80 133.85" y="282.90" font-size="44">-6</text>
<text x="98.75 109.99 132.54" y="507.00" font-size="44">-17</text>
<text x="98.75 110.33 132.54" y="734.25" font-size="44">-28</text>
<text x="98.75 110.75 132.62" y="958.00" font-size="44">-39</text>
<text x="98.60 110.85 132.80" y="1185.25" font-size="44">-50</text>
<text x="1608.99 1631.34 1654.57" y="60.60" font-size="44">180</text>
<text x="1609.04 1631.75 1654.39" y="282.90" font-size="44">138</text>
<text x="1609.27 1631.90" y="507.50" font-size="44">96</text>
<text x="1609.55 1631.15" y="734.50" font-size="44">54</text>
<text x="1608.99 1631.38" y="957.50" font-size="44">12</text>
<text x="1610.65 1622.85 1644.65" y="1185.50" font-size="44">-30</text>
<text x="511.99 534.55" y="1236.85" font-size="44">10</text>
<text x="558.50" y="1208.10" font-size="31.5">4</text>
<text x="1225.99 1249.35" y="1236.85" font-size="44">10</text>
<text x="1273.50" y="1208.35" font-size="31.5">5</text>
<text x="729.45 756.12 771.31 798.83 825.75 851.31 877.63 904.80 927.01 950.67 962.89 976.37 1006.61" y="1293.00" font-size="44">Frequency, Hz</text>
<text transform="translate(60.50 704.50) rotate(-90)" x="0.25 33.63 57.51 70.43 96.17 108.39 122.36 149.19" font-size="44">Gain, dB</text>
<text transform="translate(1725.00 704.50) rotate(-90)" x="0.01 30.44 56.28 79.84 102.86 126.07 138.29 151.36" font-size="44">Phase, o</text>
</g>
<g fill="none" stroke-width="6.6">
<path d="M650.3 805.3H782.7" stroke="#00f"/>
<path d="M650.3 867.9H782.7" stroke="#f00" stroke-dasharray="6.6 6.57"/>
<path d="M650.3 989.5H782.7" stroke="#00f" stroke-dasharray="20 6.36"/>
<path d="M650.3 1048.5H782.7" stroke="#f00" stroke-dasharray="20 6.6 6.6 6.6"/>
</g>
<g fill="#000"><polygon points="725.10,930.46 720.06,935.50 712.94,935.50 707.90,930.46 707.90,923.34 712.94,918.30 720.06,918.30 725.10,923.34"/><path d="M703.40 926.90H729.60M716.50 913.90V939.90" stroke="#000" stroke-width="6.4"/></g>
<g fill="none" stroke="#000" stroke-width="6.5" stroke-linejoin="miter"><path d="M716.50 1094.90L729.50 1111.30L716.50 1127.70L703.50 1111.30Z"/></g>
<g font-family="Liberation Sans, Arial, sans-serif" font-weight="bold" fill="#000">
<text x="795.37 824.71 854.05 868.00 899.73 927.96 940.73 967.60 980.00 1006.69 1032.01 1059.91 1086.36" y="822.90" font-size="44">HP Gain Theo.</text>
<text x="795.37 824.71 854.05 868.00 899.73 927.96 940.73 967.60 979.00 1009.71 1022.45 1063.21" y="882.30" font-size="44">HP Gain Sim.</text>
<text x="795.37 824.71 854.05 868.00 899.73 927.96 940.73 967.60 979.16 1006.58 1032.91 1059.91" y="945.60" font-size="44">HP Gain exp.</text>
<text x="795.37 824.71 854.05 867.21 897.64 922.88 950.44 968.76 993.23 1009.55 1034.84 1062.01 1087.91 1115.96" y="1006.70" font-size="44">HP Phase Theo.</text>
<text x="795.37 824.71 854.05 867.21 897.64 922.88 950.44 968.76 993.23 1009.55 1038.86 1052.25 1092.11" y="1069.30" font-size="44">HP Phase Sim.</text>
<text x="795.37 824.71 854.05 867.21 897.64 922.88 950.44 968.76 993.23 1009.26 1035.53 1062.06 1089.16" y="1128.90" font-size="44">HP Phase exp.</text>
</g>
</svg></body></html>
